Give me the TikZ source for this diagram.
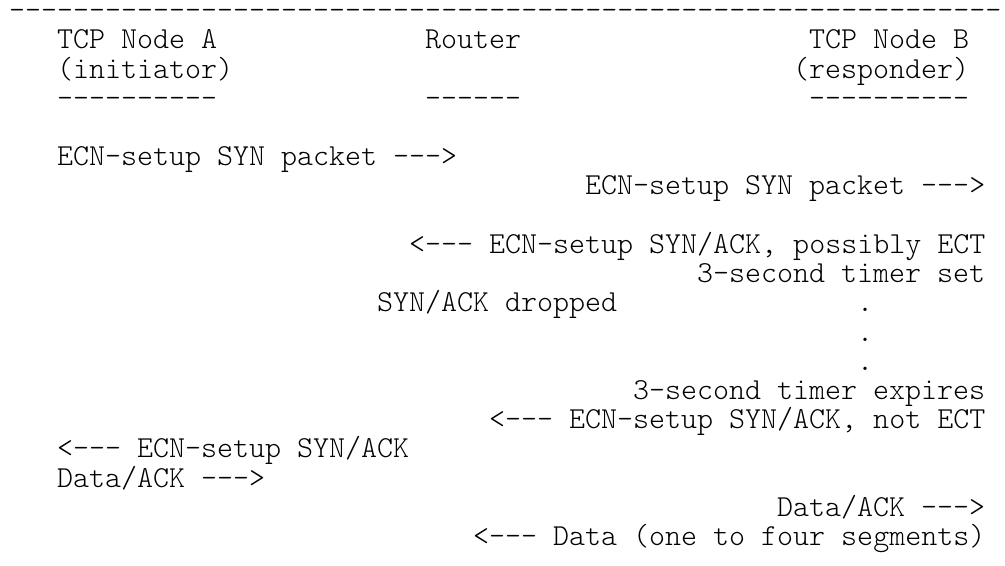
\documentclass[tikz,border=0pt]{standalone}
\usepackage{fontspec}
\setmonofont{Latin Modern Mono Light}
\usepackage{tikz}
\tikzset{
line/.style={anchor=base west, inner sep=0pt, font=\ttfamily\fontsize{30.48}{30}\selectfont}, % one line of the fixed-width sketch
rule/.style={line, text height=12pt}, % a row of dashes only
}
\begin{document}
\begin{tikzpicture}[x=16pt, y=-29.2pt] % one unit = one character cell
                \useasboundingbox (-0.5625,-0.678) rectangle (62.25,18.705);

                \node[rule] (topline) at (0,0) {--------------------------------------------------------------};
                \node[line] (nodeA) at (3,1) {TCP Node A};
                \node[line] (router) at (26,1) {Router};
                \node[line] (nodeB) at (50,1) {TCP Node B};
                \node[line] (initiator) at (3,2) {(initiator)};
                \node[line] (responder) at (49,2) {(responder)};
                \node[rule] (ruleA) at (3,3) {----------};
                \node[rule] (ruleR) at (26,3) {------};
                \node[rule] (ruleB) at (50,3) {----------};

                \node[line] (syn1) at (3,5) {ECN-setup SYN packet --->};
                \node[line] (syn2) at (36,6) {ECN-setup SYN packet --->};
                \node[line] (synack1) at (25,8) {<--- ECN-setup SYN/ACK, possibly ECT};
                \node[line] (timerset) at (43,9) {3-second timer set};
                \node[line] (dropped) at (23,10) {SYN/ACK dropped};
                \foreach \r in {10,11,12}
                    \node[line] (dot\r) at (53,\r) {.};
                \node[line] (expires) at (39,13) {3-second timer expires};
                \node[line] (synack2) at (30,14) {<--- ECN-setup SYN/ACK, not ECT};
                \node[line] (synack3) at (3,15) {<--- ECN-setup SYN/ACK};
                \node[line] (data1) at (3,16) {Data/ACK --->};
                \node[line] (data2) at (48,17) {Data/ACK --->};
                \node[line] (data3) at (29,18) {<--- Data (one to four segments)};
            \end{tikzpicture}
\end{document}
